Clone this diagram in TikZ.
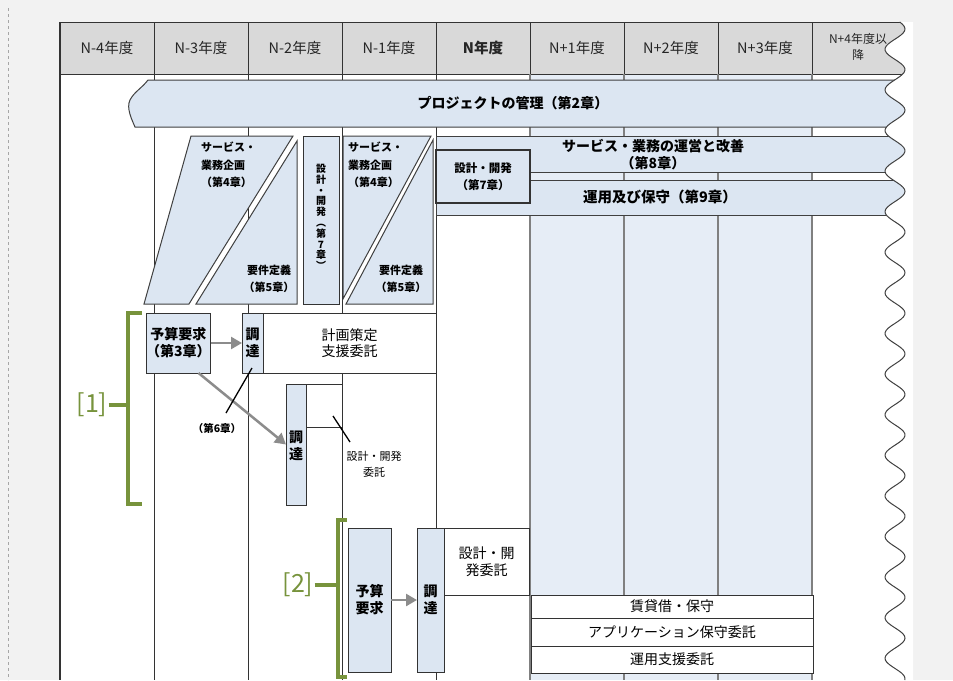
\documentclass[tikz,border=0pt]{standalone}
\usepackage{fontspec}
\setmainfont{Noto Sans CJK JP}
\usetikzlibrary{arrows.meta,positioning}

\definecolor{bandblue}{HTML}{DCE6F2}
\definecolor{colblue}{HTML}{E6EDF6}
\definecolor{hdrgray}{HTML}{D9D9D9}
\definecolor{pagegray}{HTML}{F2F2F2}
\definecolor{olive}{HTML}{77933C}
\definecolor{arrowgray}{HTML}{8C8C8C}

\begin{document}
\begin{tikzpicture}[x=1pt,y=-1pt]

		\tikzstyle{hdr}=[font=\fontsize{14.5}{16}\selectfont,text=black!85]
		\tikzstyle{band}=[fill=bandblue,draw=black!75,line width=1pt]
		\tikzstyle{box}=[draw=black!80,fill=bandblue,line width=1pt,inner sep=0pt,outer sep=0pt,anchor=north west,align=center,font=\bfseries\fontsize{14}{17}\selectfont]
		\tikzstyle{wbox}=[box,fill=white,font=\fontsize{14}{16.5}\selectfont]
		\tikzstyle{bandtext}=[font=\bfseries\fontsize{14}{17}\selectfont,align=center]
		\tikzstyle{tiny}=[font=\bfseries\fontsize{11}{17.5}\selectfont,align=left,inner sep=0pt]
		\tikzstyle{note}=[font=\fontsize{11}{16}\selectfont,align=center,inner sep=0pt]
		\tikzstyle{pointer}=[line width=1.3pt,black]
		\tikzstyle{flow}=[line width=2.5pt,draw=arrowgray,-{Triangle[length=11pt,width=12pt]}]
		\tikzstyle{brk}=[line width=3.5pt,draw=olive]
		\tikzstyle{lab}=[text=olive,font=\fontsize{25}{25}\selectfont,inner sep=1pt]
		\tikzstyle{grid}=[draw=black!80,line width=1pt]
		\tikzstyle{bluegrid}=[draw=black!50,line width=1.5pt]

		\useasboundingbox (0,0) rectangle (953,680);
		\fill[pagegray] (0,0) rectangle (953,680);
		\fill[white] (60,22) rectangle (913,680);
		\draw[black!35,dashed,line width=1pt] (8,8) -- (8,680);

		% header and columns
		\fill[hdrgray] (60,22) rectangle (913,74);
		\fill[colblue] (530,74) rectangle (812,680);
		\draw[grid] (60,22) -- (913,22) (60,74) -- (913,74);
		\draw[grid,line width=1.5pt] (60,22) -- (60,680);
		\draw[grid] (154,22) -- (154,680) (248,22) -- (248,680) (342,22) -- (342,680) (436,22) -- (436,680);
		\draw[grid] (530,22) -- (530,74) (624,22) -- (624,74) (718,22) -- (718,74) (812,22) -- (812,680);
		\draw[bluegrid] (530,74) -- (530,680) (624,74) -- (624,680) (718,74) -- (718,680) (812,74) -- (812,680);

		\node[hdr] (y1) at (107,48) {N-4年度};
		\node[hdr] (y2) at (201,48) {N-3年度};
		\node[hdr] (y3) at (295,48) {N-2年度};
		\node[hdr] (y4) at (389,48) {N-1年度};
		\node[hdr,font=\bfseries\fontsize{14.5}{16}\selectfont] (y5) at (483,48) {N年度};
		\node[hdr] (y6) at (577,48) {N+1年度};
		\node[hdr] (y7) at (671,48) {N+2年度};
		\node[hdr] (y8) at (765,48) {N+3年度};
		\node[hdr,font=\fontsize{12}{16}\selectfont,align=center] (y9) at (858,47) {N+4年度以\\降};

		% bands
		\filldraw[band] (148,80) -- (912,80) -- (912,127) -- (135,127) .. controls (132,120) and (126,108) .. (130,100) .. controls (134,92) and (142,88) .. (148,80) -- cycle;
		\node[bandtext] (pm) at (513,103) {プロジェクトの管理（第2章）};
		\filldraw[band] (436,136) rectangle (912,172);
		\node[bandtext] (ops) at (653,155) {サービス・業務の運営と改善\\（第8章）};
		\filldraw[band] (436,180) rectangle (912,215);
		\node[bandtext,font=\bfseries\fontsize{14.5}{17}\selectfont] (mnt) at (660,197) {運用及び保守（第9章）};
		\node[box,minimum width=94,minimum height=53,line width=1.8pt,font=\bfseries\fontsize{11.5}{17}\selectfont] (dev0) at (436,150) {設計・開発\\（第7章）};

		% planning shapes
		\filldraw[band] (191,136) -- (293,136) -- (189,304) -- (144,304) -- cycle;
		\filldraw[band] (297,141) -- (297,304) -- (196,304) -- cycle;
		\node[tiny,anchor=north west] (plan1) at (201,142) {サービス・\\業務企画\\（第4章）};
		\node[tiny,align=center] (req5a) at (269,279) {要件定義\\（第5章）};
		\node[box,minimum width=36,minimum height=168] (dev7) at (303,136) {};
		\node[align=center,inner sep=0pt,font=\bfseries\fontsize{10}{10.8}\selectfont] (dev7t) at (321,217) {設\\計\\・\\開\\発\\︵\\第\\7\\章\\︶};
		\filldraw[band] (343,136) -- (431,136) -- (343,299) -- cycle;
		\filldraw[band] (433,140) -- (433,304) -- (346,304) -- cycle;
		\node[tiny,anchor=north west] (plan2) at (348,142) {サービス・\\業務企画\\（第4章）};
		\node[tiny,align=center] (req5b) at (401,279) {要件定義\\（第5章）};

		% [1]
		\node[box,minimum width=61,minimum height=60] (req1) at (146,313) {予算要求\\（第3章）};
		\node[box,minimum width=21,minimum height=60] (proc1) at (242,313) {調\\達};
		\node[wbox,minimum width=173,minimum height=60] (pol1) at (263,313) {計画策定\\支援委託};
		\node[box,minimum width=20,minimum height=121,anchor=north west] (proc2) at (286,384) {};
		\node[align=center,inner sep=0pt,font=\bfseries\fontsize{14}{17}\selectfont] (proc2t) at (296,446) {調\\達};
		\node[wbox,minimum width=36,minimum height=43] (dev1) at (306,384) {};
		\draw[flow] (req1) -- (proc1);
		\draw[flow] (req1.-56) -- (proc2.west);
		\node[tiny,align=center,font=\bfseries\fontsize{10.5}{12}\selectfont] (ch6) at (217,428) {（第6章）};
		\coordinate (c6a) at (252,368);
		\coordinate (c6b) at (226,413);
		\draw[pointer] (c6a) -- (c6b);
		\node[note] (devlab) at (374,464) {設計・開発\\委託};
		\coordinate (d1a) at (333,416);
		\coordinate (d1b) at (350,442);
		\draw[pointer] (d1a) -- (d1b);
		\draw[brk] (142,313) -- (128,313) -- (128,504) -- (142,504);
		\node[lab] (g1) at (92,405) {[1]};
		\draw[brk] (g1) -- (128,405);

		% [2]
		\node[box,minimum width=43,minimum height=144] (req2) at (348,528) {予算\\要求};
		\node[box,minimum width=27,minimum height=144] (proc3) at (417,528) {調\\達};
		\node[wbox,minimum width=85,minimum height=67] (dev2) at (444,528) {設計・開\\発委託};
		\node[wbox,minimum width=282,minimum height=23] (r1) at (531,595) {賃貸借・保守};
		\node[wbox,minimum width=282,minimum height=28] (r2) at (531,618) {アプリケーション保守委託};
		\node[wbox,minimum width=282,minimum height=27] (r3) at (531,646) {運用支援委託};
		\draw[flow] (req2) -- (proc3);
		\draw[brk] (347,520) -- (338,520) -- (338,677) -- (347,677);
		\node[lab] (g2) at (298,585) {[2]};
		\draw[brk] (g2) -- (338,585);

		% torn right edge
		\fill[white] plot[domain=22:680,samples=300,smooth,variable=\t] ({895+10*cos(8.867*(\t-232))},\t) -- (913,680) -- (913,22) -- cycle;
		\draw[black!75,line width=1pt] plot[domain=22:680,samples=300,smooth,variable=\t] ({895+10*cos(8.867*(\t-232))},\t);

\end{tikzpicture}
\end{document}
